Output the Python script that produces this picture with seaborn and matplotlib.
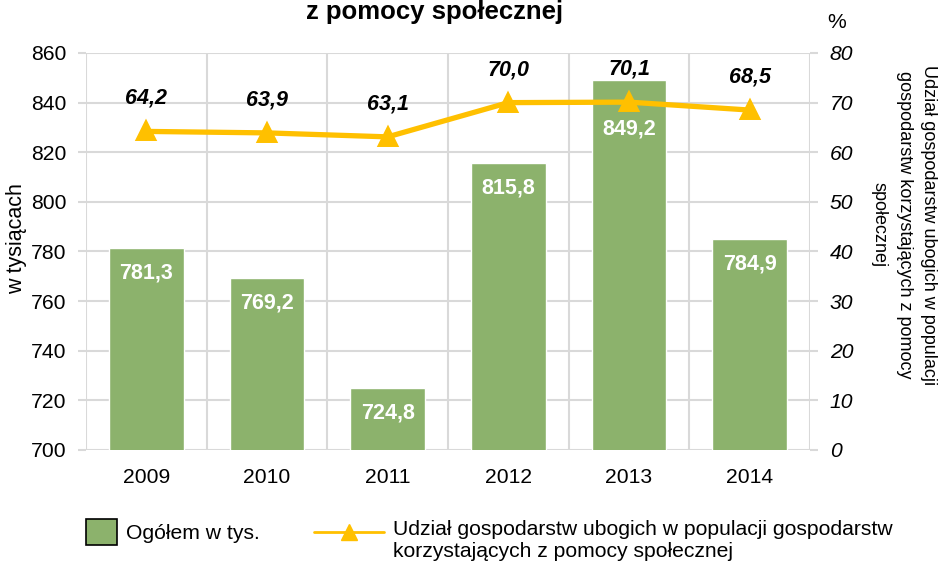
import numpy as np
import pandas as pd
import matplotlib
matplotlib.use('Agg')
import matplotlib.pyplot as plt
import seaborn as sns
from matplotlib.patches import Patch
from matplotlib.lines import Line2D
from matplotlib.legend_handler import HandlerLine2D
from matplotlib.ticker import FixedLocator

# ---- data ----
years = ['2009', '2010', '2011', '2012', '2013', '2014']
totals = [781.3, 769.2, 724.8, 815.8, 849.2, 784.9]          # w tys.
shares = [64.2, 63.9, 63.1, 70.0, 70.1, 68.5]                # %
left_ticks = [700, 720, 740, 760, 780, 800, 820, 840, 860]
right_ticks = [0, 10, 20, 30, 40, 50, 60, 70, 80]

title_line = 'z pomocy społecznej'
left_label = 'w tysiącach'
right_label = 'Udział gospodarstw ubogich w populacji\ngospodarstw korzystających z pomocy\nspołecznej'
bar_legend = 'Ogółem w tys.'
line_legend_1 = 'Udział gospodarstw ubogich w populacji gospodarstw'
line_legend_2 = 'korzystających z pomocy społecznej'

# ---- style ----
sns.set_style('white')
plt.rcParams['font.family'] = ['Liberation Sans', 'DejaVu Sans']
plt.rcParams['text.color'] = 'black'
GREEN = '#8CB26C'
GOLD = '#FFC000'
GRID = '#D9D9D9'
FS = 15.2
bar_label_offsets = [25, 25, 25, 25, 49, 25]   # px below bar top

def fmt(v):
    return f'{v:.1f}'.replace('.', ',')

class ShiftedLineHandler(HandlerLine2D):
    def create_artists(self, legend, orig_handle, xdescent, ydescent, width,
                       height, fontsize, trans):
        return super().create_artists(legend, orig_handle, xdescent, ydescent + 7,
                                      width, height, fontsize, trans)

df = pd.DataFrame({'year': years, 'total': totals, 'share': shares})

fig = plt.figure(figsize=(9.43, 5.63), dpi=100)
ax = fig.add_axes([86 / 943, 113 / 563, 724 / 943, 397 / 563])

sns.barplot(data=df, x='year', y='total', color=GREEN, width=0.62,
            saturation=1, ax=ax, zorder=2)
ax.set_ylim(700, 860)
ax.set_xlim(-0.5, len(years) - 0.5)
ax.set_yticks(left_ticks)
ax.xaxis.set_minor_locator(FixedLocator(np.arange(-0.5, len(years), 1.0)))
ax.set_axisbelow(True)
ax.grid(axis='y', which='major', color=GRID, lw=1.5)
ax.grid(axis='x', which='minor', color=GRID, lw=1.5)
ax.grid(axis='x', which='major', visible=False)
ax.tick_params(axis='x', which='major', length=0, pad=13, labelsize=FS, labelcolor='black')
ax.tick_params(axis='x', which='minor', length=6, width=1.5, color=GRID, direction='out')
ax.tick_params(axis='y', length=6, width=1.5, color=GRID, pad=8.3, labelsize=FS,
               left=True, labelcolor='black')
for s in ax.spines.values():
    s.set_visible(False)
ax.set_xlabel('')
ax.set_ylabel('')

for i, v in enumerate(totals):
    ax.annotate(fmt(v), xy=(i, v), xytext=(0, -bar_label_offsets[i]),
                textcoords='offset pixels', ha='center', va='center',
                color='white', fontweight='bold', fontsize=15.5)

ax2 = ax.twinx()
sns.pointplot(data=df, x='year', y='share', color=GOLD, markers='^',
              markersize=12, linewidth=3.8, errorbar=None, ax=ax2)
ax2.set_ylim(0, 80)
ax2.set_xlim(-0.5, len(years) - 0.5)
ax2.set_yticks(right_ticks)
ax2.grid(False)
for s in ax2.spines.values():
    s.set_visible(False)
ax2.tick_params(axis='y', length=6, width=1.5, color=GRID, pad=8.3, labelsize=FS,
                right=True, labelcolor='black')
for lbl in ax2.get_yticklabels():
    lbl.set_fontstyle('italic')
ax2.set_ylabel('')
ax2.set_xlabel('')

for i, v in enumerate(shares):
    ax2.annotate(fmt(v), xy=(i, v), xytext=(0, 33), textcoords='offset pixels',
                 ha='center', va='center', fontweight='bold', fontstyle='italic',
                 fontsize=15.5, color='black')

# texts
fig.text(435 / 943, 1 - 19 / 563, title_line, ha='center', va='baseline',
         fontsize=18.5, fontweight='bold')
fig.text(17 / 943, 1 - 239 / 563, left_label, rotation=90, ha='center', va='center',
         fontsize=15.5)
fig.text(904 / 943, 1 - 225 / 563, right_label, rotation=270, ha='center', va='center',
         multialignment='center', fontsize=13, linespacing=1.6)
fig.text(827 / 943, 1 - 23 / 563, '%', ha='left', va='center', fontsize=FS)

# legends
h1 = Patch(facecolor=GREEN, edgecolor='black', linewidth=1.2)
leg1 = fig.legend([h1], [bar_legend], loc='center left',
                  bbox_to_anchor=(86 / 943, 1 - 532 / 563), frameon=False,
                  fontsize=FS, handlelength=1.45, handleheight=1.45,
                  borderpad=0, borderaxespad=0, handletextpad=0.45)
h2 = Line2D([], [], color=GOLD, lw=2, marker='^', markersize=12)
h3 = Line2D([], [], color='none')
leg2 = fig.legend([h2, h3], [line_legend_1, line_legend_2], loc='upper left',
                  bbox_to_anchor=(314 / 943, 1 - 520 / 563), frameon=False,
                  fontsize=FS, handlelength=3.3, borderpad=0, borderaxespad=0,
                  handletextpad=0.45, labelspacing=0.15,
                  handler_map={h2: ShiftedLineHandler()})

fig.savefig('out.png', dpi=100)
